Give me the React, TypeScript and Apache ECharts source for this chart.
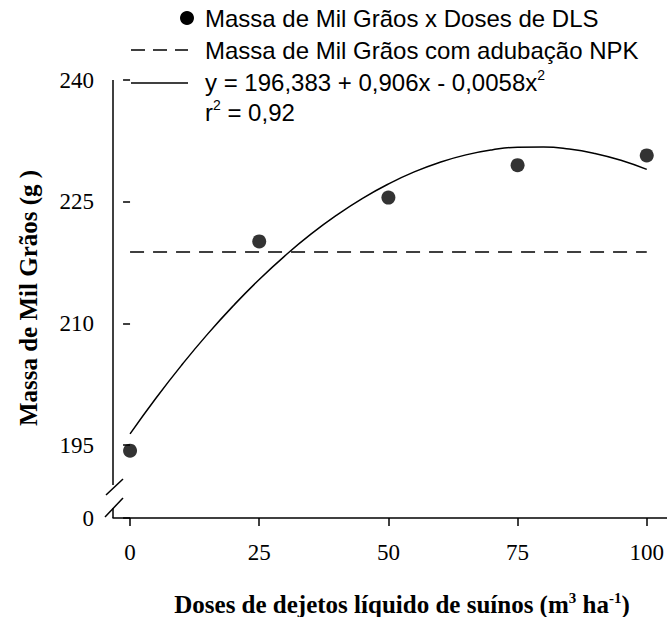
import React, { useEffect, useRef } from "react";
import * as echarts from "echarts";

// ---- data ----
const doses = [0, 25, 50, 75, 100];
const massaObs = [194.3, 220.1, 225.5, 229.5, 230.7];
const npkDoses = [0, 100];
const npkLevel = 218.8;
const curveDoses = [0, 5, 10, 15, 20, 25, 30, 35, 40, 45, 50, 55, 60, 65, 70, 75, 80, 85, 90, 95, 100];
const curveMassa = [196.38, 200.77, 204.86, 208.67, 212.18, 215.41, 218.34, 220.99, 223.34, 225.41, 227.18, 228.67, 229.86, 230.77, 231.38, 231.71, 231.74, 231.49, 230.94, 230.11, 228.98];
const xTicks = [0, 25, 50, 75, 100];
const yTicks = [186, 195, 210, 225, 240]; // 186 stands for the broken-axis "0"
const yTickLabels = ["0", "195", "210", "225", "240"];

const legendTexts = [
  "Massa de Mil Grãos x Doses de DLS",
  "Massa de Mil Grãos com adubação NPK",
];

export default function App() {
  const ref = useRef<HTMLDivElement>(null);
  useEffect(() => {
    document.body.style.margin = "0";
    const chart = echarts.init(ref.current!, null, { renderer: "svg" });
    const serif = "'Liberation Serif', 'Times New Roman', serif";
    const sans = "'Liberation Sans', Arial, sans-serif";
    const black = "#000";
    const supStyle = { fontFamily: sans, fontSize: 14, lineHeight: 14, verticalAlign: "top", fill: black };
    chart.setOption({
      animation: false,
      backgroundColor: "#fff",
      grid: { left: 113, top: 80, right: 0, bottom: 99, containLabel: false },
      xAxis: {
        type: "value",
        min: -3.3,
        max: 103.9,
        axisLine: { show: true, lineStyle: { color: black, width: 1.5 } },
        axisTick: { show: true, customValues: xTicks, length: 8, lineStyle: { color: black, width: 1.5 } },
        axisLabel: { customValues: xTicks, fontFamily: serif, fontSize: 23, color: black, margin: 23 },
        splitLine: { show: false },
      },
      yAxis: {
        type: "value",
        min: 186,
        max: 240,
        axisLine: { show: false },
        axisTick: { show: true, customValues: yTicks, length: 7, lineStyle: { color: black, width: 1.5 } },
        axisLabel: {
          customValues: yTicks,
          fontFamily: serif,
          fontSize: 23,
          color: black,
          margin: 19,
          formatter: (v: number) => yTickLabels[yTicks.indexOf(v)] ?? String(v),
        },
        splitLine: { show: false },
      },
      series: [
        {
          type: "line",
          data: npkDoses.map((d) => [d, npkLevel]),
          symbol: "none",
          lineStyle: { color: black, width: 1.5, type: [14, 9] },
          z: 2,
        },
        {
          type: "line",
          data: curveDoses.map((d, i) => [d, curveMassa[i]]),
          smooth: true,
          symbol: "none",
          lineStyle: { color: black, width: 1.5 },
          z: 3,
        },
        {
          type: "scatter",
          data: doses.map((d, i) => [d, massaObs[i]]),
          symbol: "circle",
          symbolSize: 14,
          itemStyle: { color: black },
          z: 4,
        },
      ],
      graphic: [
        // broken y axis line
        { type: "line", shape: { x1: 113, y1: 80, x2: 113, y2: 485 }, style: { stroke: black, lineWidth: 1.5 } },
        { type: "line", shape: { x1: 113, y1: 508, x2: 113, y2: 518 }, style: { stroke: black, lineWidth: 1.5 } },
        { type: "line", shape: { x1: 106, y1: 495, x2: 123, y2: 479 }, style: { stroke: black, lineWidth: 1.5 } },
        { type: "line", shape: { x1: 105, y1: 517, x2: 123, y2: 498 }, style: { stroke: black, lineWidth: 1.5 } },
        // legend
        { type: "circle", shape: { cx: 187, cy: 18, r: 7 }, style: { fill: black } },
        { type: "line", shape: { x1: 131, y1: 50, x2: 188, y2: 50 }, style: { stroke: black, lineWidth: 1.5, lineDash: [14, 8] } },
        { type: "line", shape: { x1: 131, y1: 83, x2: 188, y2: 83 }, style: { stroke: black, lineWidth: 1.5 } },
        { type: "text", x: 205, y: 18, style: { text: legendTexts[0], font: `24px ${sans}`, fill: black, verticalAlign: "middle" } },
        { type: "text", x: 205, y: 50, style: { text: legendTexts[1], font: `24px ${sans}`, fill: black, verticalAlign: "middle" } },
        {
          type: "text",
          x: 205,
          y: 68,
          style: {
            text: "y = 196,383 + 0,906x - 0,0058x{sup|2}",
            fontFamily: sans,
            fontSize: 24,
            lineHeight: 28,
            fill: black,
            verticalAlign: "top",
            rich: { sup: supStyle },
          },
        },
        {
          type: "text",
          x: 205,
          y: 98,
          style: {
            text: "r{sup|2} = 0,92",
            fontFamily: sans,
            fontSize: 24,
            lineHeight: 28,
            fill: black,
            verticalAlign: "top",
            rich: { sup: supStyle },
          },
        },
        // axis titles
        {
          type: "text",
          x: 402,
          y: 604,
          style: {
            text: "Doses de dejetos líquido de suínos (m{sup|3} ha{sup|-1})",
            fontFamily: serif,
            fontSize: 25,
            fontWeight: "bold",
            lineHeight: 28,
            fill: black,
            align: "center",
            verticalAlign: "middle",
            rich: { sup: { fontFamily: serif, fontSize: 15, fontWeight: "bold", lineHeight: 14, verticalAlign: "top", fill: black } },
          },
        },
        {
          type: "text",
          x: 28,
          y: 298,
          rotation: Math.PI / 2,
          style: {
            text: "Massa de Mil Grãos (g )",
            font: `bold 25px ${serif}`,
            fill: black,
            align: "center",
            verticalAlign: "middle",
          },
        },
      ],
    });
    return () => chart.dispose();
  }, []);
  return <div ref={ref} style={{ width: 667, height: 617 }} />;
}
